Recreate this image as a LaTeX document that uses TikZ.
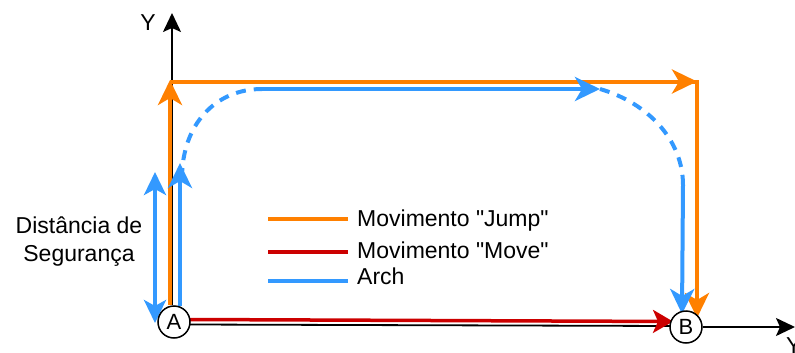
\documentclass[tikz,border=0pt]{standalone}
\usepackage{fontspec}
\setmainfont{Liberation Sans}[Ligatures=TeXOff]
\usetikzlibrary{arrows.meta}
\definecolor{jor}{HTML}{FF8000}
\definecolor{jbl}{HTML}{3399FF}
\definecolor{jrd}{HTML}{CC0000}
\newcommand{\sq}{\symbol{34}}
\begin{document}
\begin{tikzpicture}[x=1pt,y=-1pt,
  lbl/.style={font=\fontsize{23}{28}\selectfont, inner sep=0pt},
  pt/.style={circle, draw=black, line width=1.5pt, fill=white, minimum size=32pt, inner sep=0pt, font=\fontsize{22}{22}\selectfont},
  axis/.style={draw=black, line width=1.8pt},
  bigtip/.style={-{Stealth[length=25pt,width=24pt,inset=7pt]}},
  orl/.style={draw=jor, line width=4pt},
  bll/.style={draw=jbl, line width=4pt},
  rdl/.style={draw=jrd, line width=3.5pt},
  dsh/.style={dash pattern=on 10pt off 8pt}]
\useasboundingbox (0,0) rectangle (795,353);
% coordinates
\coordinate (yTip) at (172,13);
\coordinate (yBase) at (172,305);
\coordinate (xTip) at (795,327);
\coordinate (o1) at (170,305);
\coordinate (o2) at (170,80);
\coordinate (o3) at (170,81.5);
\coordinate (o4) at (697,81.5);
\coordinate (o5) at (697,80);
\coordinate (o6) at (697,318);
\coordinate (b1) at (180,306);
\coordinate (b2) at (180,163);
\coordinate (b3) at (182,178);
\coordinate (b4) at (262,89);
\coordinate (b5) at (600,89);
\coordinate (b6) at (683,185);
\coordinate (b7) at (682,314);
\coordinate (d1) at (155,172);
\coordinate (d2) at (155,323);
\coordinate (r1) at (190,319.5);
\coordinate (r2) at (673,321.5);
\coordinate (k1) at (190,324.5);
\coordinate (k2) at (672,326);
% axes
\draw[axis,-{Stealth[length=19pt,width=18pt,inset=4pt]}] (yBase) -- (yTip);
\node[lbl] (ylab) at (148,23) {Y};
\draw[axis] (k1) -- (k2);
% orange jump
\draw[orl,bigtip,fill=jor] (o1) -- (o2);
\draw[orl] (o3) -- (o4);
\draw[jor,fill=jor,bigtip,line width=4pt] (o3) -- (o5 |- o3);
\draw[orl,bigtip,fill=jor] (o5) -- (o6);
% blue arch
\draw[bll,bigtip,fill=jbl] (b1) -- (b2);
\draw[bll,dsh] (b3) .. controls (182,125) and (215,89) .. (b4);
\draw[bll,bigtip,fill=jbl] (b4) -- (b5);
\draw[bll,dsh] (b5) .. controls (648,103) and (683,140) .. (b6);
\draw[bll,bigtip,fill=jbl] (b6) -- (b7);
% safety distance
\draw[bll,fill=jbl,{Stealth[length=23pt,width=22pt,inset=6pt]}-{Stealth[length=23pt,width=22pt,inset=6pt]}] (d1) -- (d2);
\node[lbl,align=center] (dist) at (79,242) {Distância de\\Segurança};
% red move
\draw[rdl,fill=jrd,-{Stealth[length=20pt,width=23pt,inset=5pt]}] (r1) -- (r2);
% points
\node[pt] (A) at (174,322) {A};
\node[pt] (B) at (686,327) {B};
\draw[axis,-{Stealth[length=19pt,width=18pt,inset=4pt]}] (B.east) -- (xTip);
\node[lbl,anchor=north west] (xlab) at (786,337) {Y};
% legend
\coordinate (l1a) at (268,219); \coordinate (l1b) at (348,219);
\coordinate (l2a) at (268,252); \coordinate (l2b) at (348,252);
\coordinate (l3a) at (268,281); \coordinate (l3b) at (348,281);
\draw[orl] (l1a) -- (l1b);
\draw[rdl] (l2a) -- (l2b);
\draw[bll] (l3a) -- (l3b);
\node[lbl,anchor=base west] (t1) at (357,226) {Movimento \sq Jump\sq};
\node[lbl,anchor=base west] (t2) at (357,258) {Movimento \sq Move\sq};
\node[lbl,anchor=base west] (t3) at (357,284) {Arch};
\end{tikzpicture}
\end{document}
